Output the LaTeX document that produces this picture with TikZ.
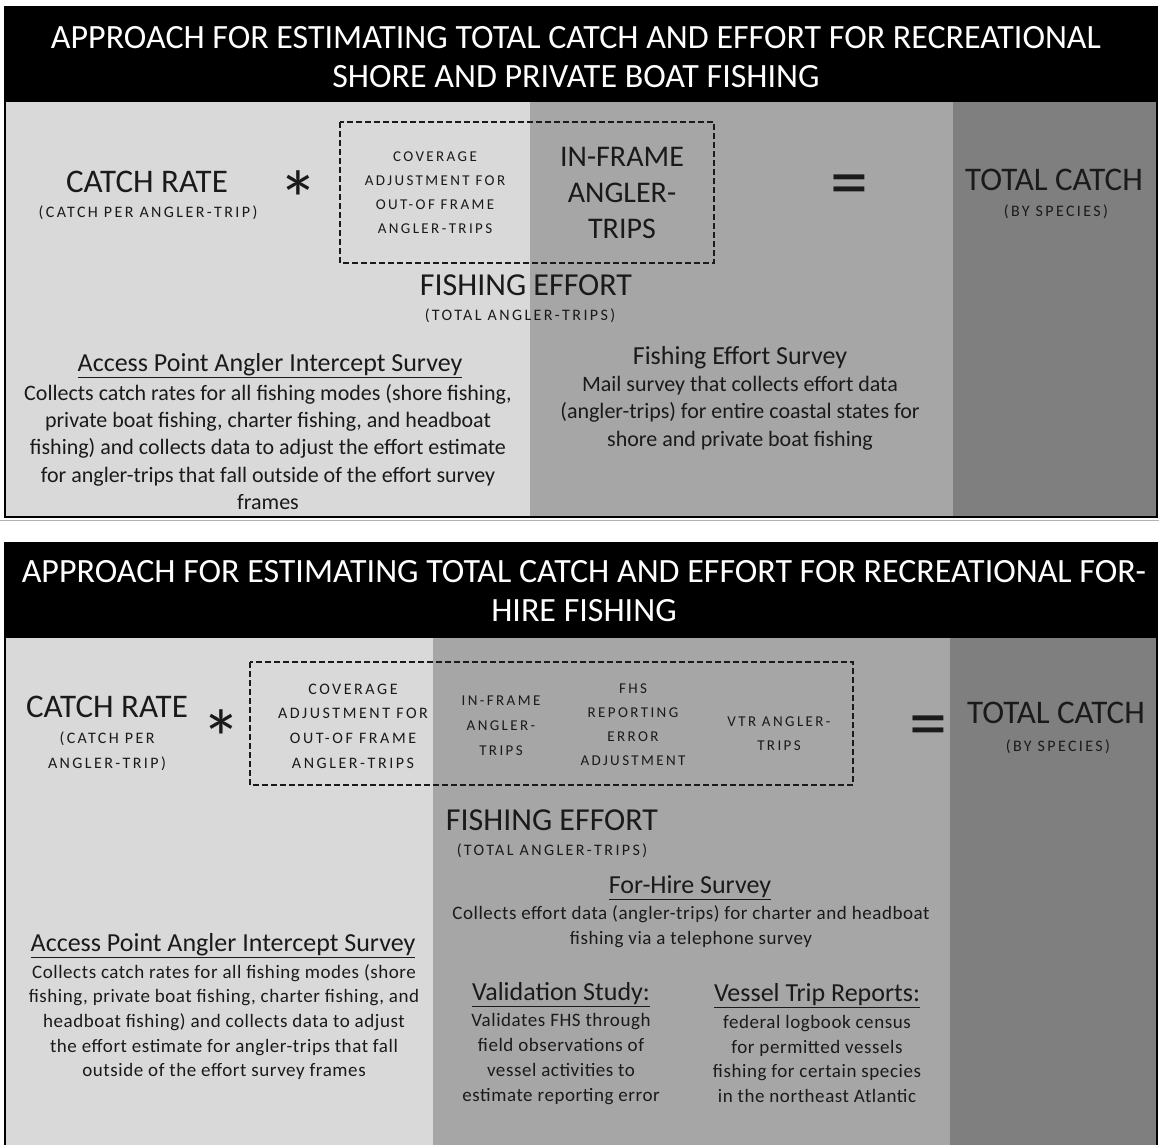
\documentclass[tikz,border=0pt]{standalone}
\usepackage{fontspec}
\setmainfont{Carlito}
\newfontfamily\spacedfont[LetterSpace=15]{Carlito}
\newfontfamily\capfont[LetterSpace=16]{Carlito}
\newfontfamily\lspfont[LetterSpace=3]{Carlito}
\definecolor{lightg}{HTML}{D9D9D9}
\definecolor{midg}{HTML}{A6A6A6}
\definecolor{darkg}{HTML}{7F7F7F}
\definecolor{ink}{HTML}{1A1A1A}
\newcommand{\fs}[2]{\fontsize{#1}{#2}\selectfont}
\tikzset{
  txt/.style={inner sep=0pt, align=center, text=ink},
  titletxt/.style={inner sep=0pt, align=center, text=white, font=\fs{34}{39}},
  big/.style={txt, font=\fs{33}{36}},
  sub/.style={txt, font=\spacedfont\fs{16}{25}},
  head/.style={txt, font=\fs{26}{28}},
  body/.style={txt, font=\fs{22}{27.3}},
  smallbody/.style={txt, font=\lspfont\fs{19}{24.7}},
  star/.style={txt, font=\fs{80}{80}},
  equal/.style={txt, font=\fs{76}{76}},
  dashbox/.style={draw=ink, line width=1.6pt, dash pattern=on 6pt off 3pt},
  panel/.style={draw=black, line width=2.5pt}
}
\begin{document}
\begin{tikzpicture}[x=1pt,y=-1pt]
\useasboundingbox[fill=white] (0,0) rectangle (1159,1144);
% ---------- top panel ----------
\fill[lightg] (5,102) rectangle (530,517);
\fill[midg] (530,102) rectangle (953,517);
\fill[darkg] (953,102) rectangle (1157,517);
\fill[black] (5,7) rectangle (1157,102);
\draw[panel] (5,7) rectangle (1157,517);
\draw[gray!60, line width=1pt] (0,520.5) -- (1159,520.5);
\node[titletxt] (t1) at (576,57) {APPROACH FOR ESTIMATING TOTAL CATCH AND EFFORT FOR RECREATIONAL\\SHORE AND PRIVATE BOAT FISHING};
\node[big] (cr1) at (147,182) {CATCH RATE};
\node[sub] (cr1s) at (148,213) {(CATCH PER ANGLER-TRIP)};
\node[star] (st1) at (298,199) {*};
\draw[dashbox] (340,122) rectangle (714,263);
\node[txt, font=\capfont\fs{15}{24}] (cov1) at (435,193) {COVERAGE\\ADJUSTMENT FOR\\OUT-OF FRAME\\ANGLER-TRIPS};
\node[txt, font=\fs{30}{36}] (inf1) at (622,193) {IN-FRAME\\ANGLER-\\TRIPS};
\node[equal] (eq1) at (849,191) {=};
\node[big] (tc1) at (1054,180) {TOTAL CATCH};
\node[sub] (tc1s) at (1056,212) {(BY SPECIES)};
\node[txt, font=\fs{32}{34}] (fe1) at (526,285) {FISHING EFFORT};
\node[sub] (fe1s) at (520,316) {(TOTAL ANGLER-TRIPS)};
\node[head] (apa1h) at (270,366) {\underline{Access Point Angler Intercept Survey}};
\node[body] (apa1b) at (268,447) {Collects catch rates for all fishing modes (shore fishing,\\private boat fishing, charter fishing, and headboat\\fishing) and collects data to adjust the effort estimate\\for angler-trips that fall outside of the effort survey\\frames};
\node[head] (fes1h) at (740,358) {Fishing Effort Survey};
\node[body] (fes1b) at (740,413) {Mail survey that collects effort data\\(angler-trips) for entire coastal states for\\shore and private boat fishing};
% ---------- bottom panel ----------
\fill[lightg] (5,638) rectangle (433,1150);
\fill[midg] (433,638) rectangle (950,1150);
\fill[darkg] (950,638) rectangle (1157,1150);
\fill[black] (5,543) rectangle (1157,638);
\draw[panel] (5,543) rectangle (1157,1150);
\node[titletxt] (t2) at (584,591) {APPROACH FOR ESTIMATING TOTAL CATCH AND EFFORT FOR RECREATIONAL FOR-\\HIRE FISHING};
\node[big] (cr2) at (107,707) {CATCH RATE};
\node[sub] (cr2s) at (107,751) {(CATCH PER\\ANGLER-TRIP)};
\node[star] (st2) at (221,738) {*};
\draw[dashbox] (250,662) rectangle (853,785);
\node[txt, font=\capfont\fs{16}{24.7}] (cov2) at (353,726) {COVERAGE\\ADJUSTMENT FOR\\OUT-OF FRAME\\ANGLER-TRIPS};
\node[txt, font=\capfont\fs{15}{25}] (inf2) at (501,726) {IN-FRAME\\ANGLER-\\TRIPS};
\node[txt, font=\capfont\fs{15}{24}] (fhs2) at (633,725) {FHS\\REPORTING\\ERROR\\ADJUSTMENT};
\node[txt, font=\capfont\fs{15}{24}] (vtr2) at (779,734) {VTR ANGLER-\\TRIPS};
\node[equal] (eq2) at (928,732) {=};
\node[big] (tc2) at (1056,713) {TOTAL CATCH};
\node[sub] (tc2s) at (1058,747) {(BY SPECIES)};
\node[txt, font=\fs{32}{34}] (fe2) at (552,820) {FISHING EFFORT};
\node[sub] (fe2s) at (552,851) {(TOTAL ANGLER-TRIPS)};
\node[head] (fhh) at (690,888) {\underline{For-Hire Survey}};
\node[smallbody] (fhb) at (691,926.5) {Collects effort data (angler-trips) for charter and headboat\\fishing via a telephone survey};
\node[head] (apa2h) at (223,946) {\underline{Access Point Angler Intercept Survey}};
\node[smallbody] (apa2b) at (224,1022) {Collects catch rates for all fishing modes (shore\\fishing, private boat fishing, charter fishing, and\\headboat fishing) and collects data to adjust\\the effort estimate for angler-trips that fall\\outside of the effort survey frames};
\node[head] (valh) at (561,995) {\underline{Validation Study:}};
\node[smallbody] (valb) at (561,1059) {Validates FHS through\\field observations of\\vessel activities to\\estimate reporting error};
\node[head] (vtrh) at (817,996) {\underline{Vessel Trip Reports:}};
\node[smallbody] (vtrb) at (817,1059) {federal logbook census\\for permitted vessels\\fishing for certain species\\in the northeast Atlantic};
\end{tikzpicture}
\end{document}
